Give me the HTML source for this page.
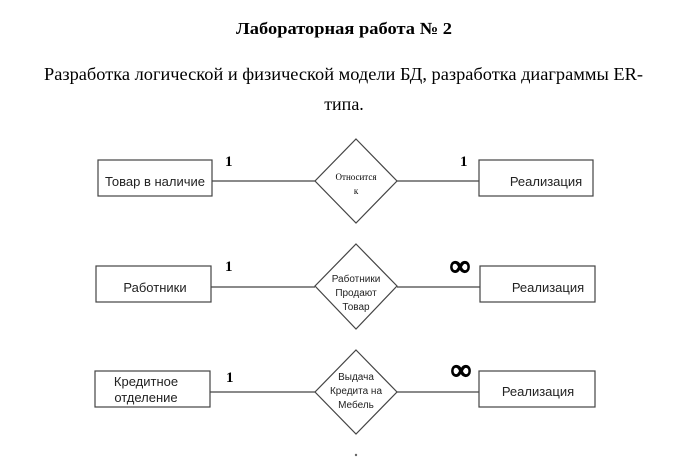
<!DOCTYPE html>
<html><head><meta charset="utf-8"><style>
html,body{margin:0;padding:0;background:#fff;width:689px;height:457px;overflow:hidden}
svg{display:block}
.s{font-family:"Liberation Sans","DejaVu Sans",sans-serif;fill:#222}
.t{font-family:"Liberation Serif",serif;fill:#000}
</style></head><body>
<svg width="689" height="457" viewBox="0 0 689 457" xmlns="http://www.w3.org/2000/svg">
<text class="t" x="344" y="34" font-size="17" font-weight="bold" text-anchor="middle" textLength="216" lengthAdjust="spacingAndGlyphs">Лабораторная работа № 2</text>
<text class="t" x="44" y="80" font-size="18" textLength="599" lengthAdjust="spacingAndGlyphs">Разработка логической и физической модели БД, разработка диаграммы ER-</text>
<text class="t" x="344" y="110" font-size="18" text-anchor="middle">типа.</text>
<g stroke="#444" stroke-width="1.2" fill="#fff">
<line x1="212" y1="181" x2="315" y2="181"/><line x1="397" y1="181" x2="479" y2="181"/>
<rect x="98" y="160" width="114" height="36"/><rect x="479" y="160" width="114" height="36"/>
<polygon points="356,139 397,181 356,223 315,181"/>
<line x1="211" y1="287" x2="315" y2="287"/><line x1="397" y1="287" x2="480" y2="287"/>
<rect x="96" y="266" width="115" height="36"/><rect x="480" y="266" width="115" height="36"/>
<polygon points="356,244 397,286 356,329 315,286"/>
<line x1="210" y1="392" x2="315" y2="392"/><line x1="397" y1="392" x2="479" y2="392"/>
<rect x="95" y="371" width="115" height="36"/><rect x="479" y="371" width="116" height="36"/>
<polygon points="356,350 397,392 356,434 315,392"/>
</g>
<circle cx="356" cy="455" r="1.2" fill="#666"/>
<g class="s" font-size="13">
<text x="155" y="186" text-anchor="middle">Товар в наличие</text>
<text x="546" y="186" text-anchor="middle">Реализация</text>
<text x="155" y="292" text-anchor="middle">Работники</text>
<text x="548" y="292" text-anchor="middle">Реализация</text>
<text x="146" y="386" text-anchor="middle">Кредитное</text>
<text x="146" y="402" text-anchor="middle">отделение</text>
<text x="538" y="396" text-anchor="middle">Реализация</text>
</g>
<g class="t" font-size="9" text-anchor="middle">
<text x="356" y="180">Относится</text>
<text x="356" y="194">к</text>
</g>
<g class="s" font-size="10" text-anchor="middle">
<text x="356" y="282">Работники</text>
<text x="356" y="296">Продают</text>
<text x="356" y="310">Товар</text>
<text x="356" y="380">Выдача</text>
<text x="356" y="394">Кредита на</text>
<text x="356" y="408">Мебель</text>
</g>
<g class="t" font-size="15" font-weight="bold">
<text x="225" y="166">1</text><text x="460" y="166">1</text>
<text x="225" y="271">1</text><text x="226" y="382">1</text>
</g>
<g class="t" font-size="28" font-weight="bold" stroke="#000" stroke-width="1.5">
<text x="450" y="275">∞</text><text x="451" y="379">∞</text>
</g>
</svg>
</body></html>
